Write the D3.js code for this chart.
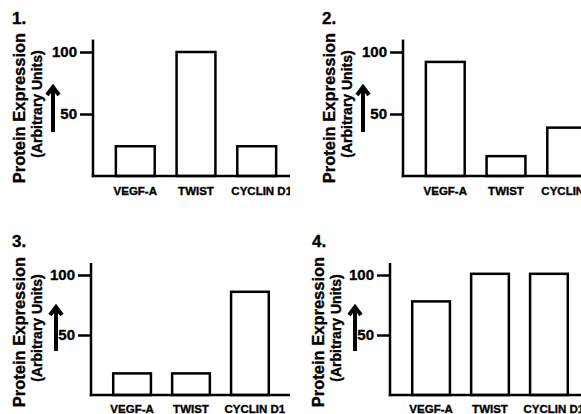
<!DOCTYPE html>
<html><head><meta charset="utf-8">
<script src="https://cdn.jsdelivr.net/npm/d3@7"></script>
<style>
html,body{margin:0;padding:0;background:#fff;}
svg{display:block;}
text{font-family:"Liberation Sans",Arial,sans-serif;font-weight:bold;fill:#000;stroke:#000;stroke-width:0.35px;}
</style></head>
<body>
<svg id="chart" width="581" height="414"></svg>
<script>
// ---- data ----
const categories = ["VEGF-A", "TWIST", "CYCLIN D1"];
const panelNames = ["1.", "2.", "3.", "4."];
const values1 = [24, 100, 24];
const values2 = [92, 16, 39];
const values3 = [18, 18, 86];
const values4 = [78, 101, 101];
const tickValues = [50, 100];
const yTitle = "Protein Expression";
const ySubtitle = "(Arbitrary Units)";

// ---- layout ----
const svg = d3.select("#chart");
const panels = [
  {name: panelNames[0], vals: values1, ax: 93,  ay: 176, y100: 52,  clip: [0, 0, 290, 207],   nx: 12,  ny: 24,  tx: 25,  tcy: 108, sx: 42,  arX: 53,  arTop: 85,  arBot: 132, cy: 195, bandEnd: 205},
  {name: panelNames[1], vals: values2, ax: 403, ay: 176, y100: 52,  clip: [290, 0, 291, 207], nx: 322, ny: 24,  tx: 335, tcy: 108, sx: 352, arX: 363, arTop: 85,  arBot: 132, cy: 195, bandEnd: 205},
  {name: panelNames[2], vals: values3, ax: 91,  ay: 395, y100: 275, clip: [0, 207, 290, 207], nx: 12,  ny: 247, tx: 25,  tcy: 332, sx: 42,  arX: 56,  arTop: 305, arBot: 351, cy: 412.5, bandEnd: 199},
  {name: panelNames[3], vals: values4, ax: 390, ay: 395, y100: 275, clip: [290, 207, 291, 207], nx: 312, ny: 247, tx: 324, tcy: 332, sx: 341, arX: 355, arTop: 305, arBot: 351, cy: 412.5, bandEnd: 199}
];

const defs = svg.append("defs");

panels.forEach((p, i) => {
  defs.append("clipPath").attr("id", "clip" + i)
    .append("rect").attr("x", p.clip[0]).attr("y", p.clip[1]).attr("width", p.clip[2]).attr("height", p.clip[3]);
  const g = svg.append("g").attr("clip-path", `url(#clip${i})`);

  const y = d3.scaleLinear().domain([0, 100]).range([p.ay, p.y100]);
  const x = d3.scaleBand().domain(categories).range([p.ax + 1, p.ax + p.bandEnd])
    .paddingInner(0.36).paddingOuter(0.36);

  // bars
  g.selectAll("rect.bar").data(p.vals).enter().append("rect")
    .attr("class", "bar")
    .attr("x", (d, j) => x(categories[j]))
    .attr("width", x.bandwidth())
    .attr("y", d => y(d))
    .attr("height", d => p.ay - y(d))
    .attr("fill", "#fff").attr("stroke", "#000").attr("stroke-width", 2.5);

  // y axis
  const yAxis = d3.axisLeft(y).tickValues(tickValues).tickSize(13).tickPadding(3).tickFormat(d3.format("d"));
  const ya = g.append("g").attr("transform", `translate(${p.ax},0)`).call(yAxis);
  ya.select(".domain").remove();
  ya.selectAll(".tick line").attr("stroke", "#000").attr("stroke-width", 2.5);
  ya.selectAll(".tick text").attr("font-size", 15).attr("font-family", '"Liberation Sans",Arial,sans-serif').attr("font-weight", "bold");
  g.append("line").attr("x1", p.ax).attr("x2", p.ax).attr("y1", y(110)).attr("y2", p.ay + 1.2)
    .attr("stroke", "#000").attr("stroke-width", 2.5);
  // x axis
  g.append("line").attr("x1", p.ax - 1.2).attr("x2", p.ax + 300).attr("y1", p.ay).attr("y2", p.ay)
    .attr("stroke", "#000").attr("stroke-width", 2.5);

  // category labels
  g.selectAll("text.cat").data(categories).enter().append("text")
    .attr("class", "cat")
    .attr("x", d => x(d) + x.bandwidth() / 2 + (d === "CYCLIN D1" ? 5 : 0))
    .attr("y", p.cy)
    .attr("text-anchor", "middle")
    .attr("font-size", 11.5)
    .text(d => d);

  // panel number
  g.append("text").attr("x", p.nx).attr("y", p.ny).attr("font-size", 17).text(p.name);

  // y titles
  g.append("text").attr("transform", `translate(${p.tx},${p.tcy}) rotate(-90)`)
    .attr("text-anchor", "middle").attr("font-size", 16.5).text(yTitle);
  g.append("text").attr("transform", `translate(${p.sx},${p.tcy - 4}) rotate(-90)`)
    .attr("text-anchor", "middle").attr("font-size", 14).attr("font-weight", "bold").text(ySubtitle);

  // arrow
  g.append("line").attr("x1", p.arX).attr("x2", p.arX).attr("y1", p.arBot).attr("y2", p.arTop + 3)
    .attr("stroke", "#000").attr("stroke-width", 4);
  g.append("path").attr("d", `M${p.arX - 6},${p.arTop + 10}L${p.arX},${p.arTop + 2}L${p.arX + 6},${p.arTop + 10}`)
    .attr("fill", "none").attr("stroke", "#000").attr("stroke-width", 4).attr("stroke-linecap", "butt");
});
</script>
</body></html>
